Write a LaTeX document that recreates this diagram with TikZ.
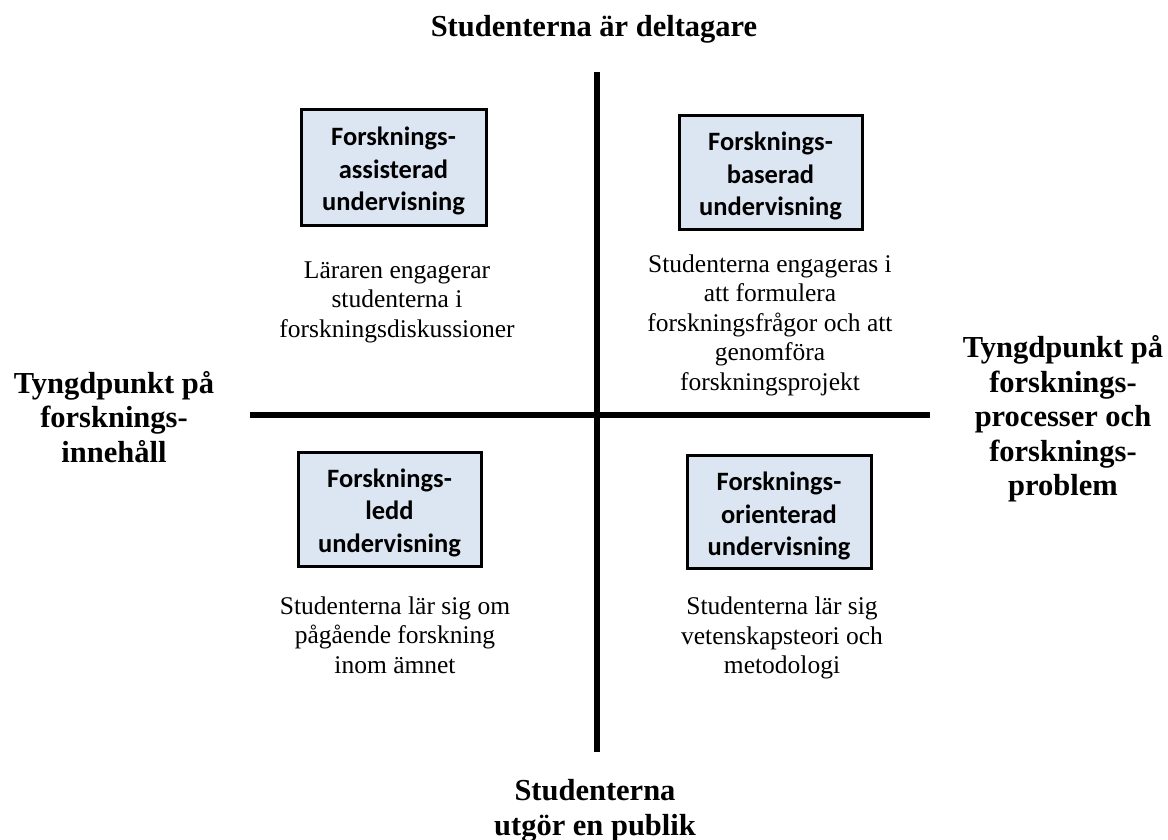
\documentclass[tikz,border=0pt]{standalone}
\usepackage{fontspec}
\setmainfont{Liberation Serif}
\newfontfamily\boxfont{Carlito}
\definecolor{boxfill}{HTML}{DCE6F2}
\begin{document}
\begin{tikzpicture}[x=1pt,y=-1pt,
  axis/.style={line width=6pt},
  catbox/.style={draw=black, line width=3pt, fill=boxfill, inner sep=0pt},
  cattext/.style={align=center, font=\boxfont\bfseries\fontsize{26.5}{32.5}\selectfont, inner sep=0pt},
  desc/.style={align=center, font=\fontsize{25.5}{29.5}\selectfont},
  title/.style={align=center, font=\bfseries\fontsize{30.5}{34.5}\selectfont}]
\useasboundingbox (0,0) rectangle (1168,840);
\coordinate (hl) at (250,415);
\coordinate (hr) at (930,415);
\coordinate (vt) at (597,72);
\coordinate (vb) at (597,752);
\draw[axis] (hl) -- (hr);
\draw[axis] (vt) -- (vb);

\node[catbox, minimum width=185pt, minimum height=115pt] (tl) at (393.5,167.5) {};
\node[catbox, minimum width=183pt, minimum height=113pt] (tr) at (770.5,172.5) {};
\node[catbox, minimum width=183pt, minimum height=114pt] (bl) at (389.5,509) {};
\node[catbox, minimum width=184pt, minimum height=113pt] (br) at (779,511.5) {};
\node[cattext] (tlt) at (393.5,171) {Forsknings-\\assisterad\\undervisning};
\node[cattext] (trt) at (770.5,176) {Forsknings-\\baserad\\undervisning};
\node[cattext] (blt) at (389.5,512.5) {Forsknings-\\ledd\\undervisning};
\node[cattext] (brt) at (779,516) {Forsknings-\\orienterad\\undervisning};

\node[desc] (tld) at (397,302) {Läraren engagerar\\studenterna i\\forskningsdiskussioner};
\node[desc] (trd) at (770,325) {Studenterna engageras i\\att formulera\\forskningsfrågor och att\\genomföra\\forskningsprojekt};
\node[desc] (bld) at (395,635) {Studenterna lär sig om\\pågående forskning\\inom ämnet};
\node[desc] (brd) at (782,638) {Studenterna lär sig\\vetenskapsteori och\\metodologi};

\node[title] (top) at (594,29) {Studenterna är deltagare};
\node[title] (left) at (114,417) {Tyngdpunkt på\\forsknings-\\innehåll};
\node[title] (right) at (1063,419) {Tyngdpunkt på\\forsknings-\\processer och\\forsknings-\\problem};
\node[title] (bottom) at (595,811) {Studenterna\\utgör en publik};
\end{tikzpicture}
\end{document}
